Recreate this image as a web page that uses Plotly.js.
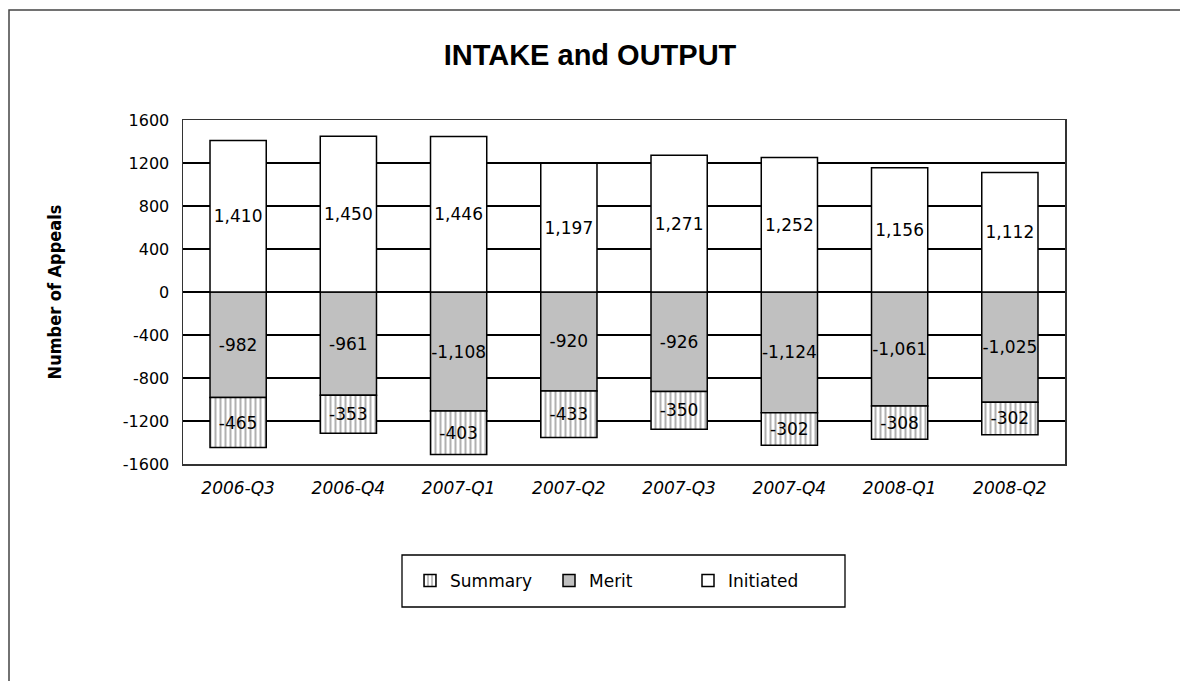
<!DOCTYPE html>
<html>
<head>
<meta charset="utf-8">
<script src="https://cdn.plot.ly/plotly-3.0.1.min.js"></script>
<style>html,body{margin:0;padding:0;background:#fff;}#chart{width:1180px;height:681px;}</style>
</head>
<body>
<div id="chart"></div>
<script>
const categories = ["2006-Q3","2006-Q4","2007-Q1","2007-Q2","2007-Q3","2007-Q4","2008-Q1","2008-Q2"];
const initiated = [1410,1450,1446,1197,1271,1252,1156,1112];
const merit = [-982,-961,-1108,-920,-926,-1124,-1061,-1025];
const summary = [-465,-353,-403,-433,-350,-302,-308,-302];
const yTicks = [-1600,-1200,-800,-400,0,400,800,1200,1600];

const SANS = "'DejaVu Sans', Verdana, sans-serif";
const lbl = {family: SANS, size: 17, color: "#000"};
const common = {
  type: "bar", x: categories, texttemplate: "%{y:,}", textposition: "inside",
  insidetextanchor: "middle", textangle: 0, textfont: lbl, insidetextfont: lbl, constraintext: "none",
  hoverinfo: "skip", width: 0.51
};
const data = [
  Object.assign({}, common, {name: "Merit", y: merit, legendrank: 2,
    marker: {color: "#c0c0c0", line: {color: "#000", width: 1.5}}}),
  Object.assign({}, common, {name: "Summary", y: summary, legendrank: 1,
    marker: {color: "#ffffff", line: {color: "#000", width: 1.5},
      pattern: {shape: "|", fgcolor: "#b0b0b0", bgcolor: "#ffffff", size: 5, solidity: 0.4}}}),
  Object.assign({}, common, {name: "Initiated", y: initiated, legendrank: 3,
    marker: {color: "#ffffff", line: {color: "#000", width: 1.5}}})
];

const px2x = p => (p - 183) / 882;
const px2y = p => (464 - p) / 344;

const layout = {
  width: 1180, height: 681,
  margin: {l: 183, r: 115, t: 120, b: 217},
  paper_bgcolor: "#fff", plot_bgcolor: "#fff",
  barmode: "relative",
  uniformtext: {mode: "show", minsize: 17},
  font: {family: SANS, size: 16, color: "#000"},
  title: {text: "<b>INTAKE and OUTPUT</b>", x: 0.5, xanchor: "center", y: 1 - 55 / 681, yanchor: "middle",
    font: {family: "'Liberation Sans', Arial, sans-serif", size: 29, color: "#000"}},
  xaxis: {
    tickvals: categories, ticktext: categories,
    tickfont: {family: SANS, size: 17, style: "italic", color: "#000"},
    showgrid: false, showline: true, mirror: true, linecolor: "#333", linewidth: 1.5,
    ticks: "", ticklabelstandoff: 8, zeroline: false
  },
  yaxis: {
    range: [-1600, 1600], tickvals: yTicks, ticktext: yTicks.map(String),
    tickfont: {family: SANS, size: 16, color: "#000"},
    showgrid: true, gridcolor: "#000", gridwidth: 1.4,
    zeroline: true, zerolinecolor: "#000", zerolinewidth: 1.4,
    showline: true, mirror: true, linecolor: "#333", linewidth: 1.5,
    ticks: "", ticklabelstandoff: 9,
    title: {text: "<b>Number of Appeals</b>", standoff: 56,
      font: {family: "'DejaVu Sans Condensed', 'DejaVu Sans', sans-serif", size: 18, color: "#000"}}
  },
  showlegend: true,
  legend: {
    orientation: "h", x: px2x(410), xanchor: "left", y: px2y(581), yanchor: "middle",
    borderwidth: 0, bgcolor: "rgba(0,0,0,0)",
    font: {family: SANS, size: 17, color: "#000"},
    entrywidth: 94, entrywidthmode: "pixels", traceorder: "normal",
    itemwidth: 30
  },
  shapes: [
    {type: "rect", xref: "paper", yref: "paper",
      x0: px2x(9), x1: px2x(1195), y0: px2y(700), y1: px2y(10),
      line: {color: "#444", width: 1.5}, fillcolor: "rgba(0,0,0,0)", layer: "below"},
    {type: "rect", xref: "paper", yref: "paper",
      x0: px2x(402), x1: px2x(845), y0: px2y(607), y1: px2y(555),
      line: {color: "#000", width: 1.3}, fillcolor: "rgba(0,0,0,0)", layer: "below"}
  ]
};

Plotly.newPlot("chart", data, layout, {displayModeBar: false, staticPlot: true});
</script>
</body>
</html>
